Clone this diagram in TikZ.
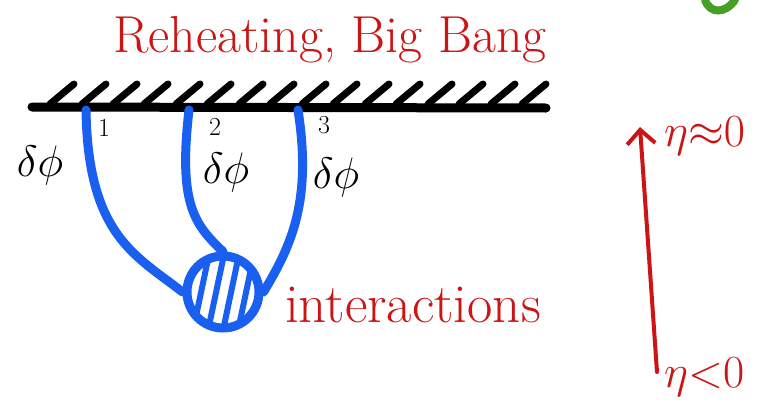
\RequirePackage{fix-cm}
\documentclass[tikz,border=0pt]{standalone}
\usepackage{amssymb}
\usetikzlibrary{arrows.meta}
\definecolor{inkred}{RGB}{205,20,20}
\definecolor{inkblue}{RGB}{25,95,240}
\definecolor{inkgreen}{RGB}{70,160,40}
\tikzset{
  hatchline/.style={line width=7pt, line cap=round},
  legline/.style={inkblue, line width=9pt, line cap=round},
  redtext/.style={inkred, font=\fontsize{52}{58}\selectfont, inner sep=0pt},
  timelab/.style={inkred, font=\fontsize{46}{50}\selectfont, inner sep=0pt, anchor=west},
  fieldlab/.style={font=\fontsize{44}{48}\selectfont, inner sep=0pt},
  idxlab/.style={font=\fontsize{26}{28}\selectfont, inner sep=0pt},
}
\begin{document}
\begin{tikzpicture}[x=1pt, y=-1pt]
  \useasboundingbox[fill=white] (0,0) rectangle (757,415);

  % boundary at the end of inflation (hatched line)
  \coordinate (bl) at (32,107);
  \coordinate (br) at (546,108);
  \draw[line width=9pt, line cap=round] (bl) -- (br);
  \foreach \x in {50,82,113,144,176,207,239,270,302,333,365,396,428,459,491,522} {
    \draw[hatchline] (\x,104) -- (\x+24,84);
  }

  % title
  \node[redtext] (title) at (330,40) {Reheating, Big Bang};

  % interaction blob
  \node[circle, draw=inkblue, line width=9pt, minimum size=72pt, inner sep=0pt] (blob) at (223,292) {};
  \begin{scope}
    \clip (blob.center) circle (36pt);
    \foreach \d in {-22,-7,8,23} {
      \draw[inkblue, line width=6pt] (223+\d-10,340) -- (223+\d+10,245);
    }
  \end{scope}

  % external legs
  \coordinate (p1) at (86,110);
  \coordinate (p2) at (189,110);
  \coordinate (p3) at (298,110);
  \draw[legline] (p1) .. controls (88,235) and (135,255) .. (blob.west);
  \draw[legline] (p2) .. controls (178,205) and (195,225) .. (blob.north);
  \draw[legline] (p3) .. controls (312,200) and (292,245) .. (blob.east);

  % field labels
  \node[fieldlab] (f1) at (40,165) {$\delta\phi$};
  \node[idxlab] (i1) at (104,128) {1};
  \node[fieldlab] (f2) at (226,172) {$\delta\phi$};
  \node[idxlab] (i2) at (215,127) {2};
  \node[fieldlab] (f3) at (336,177) {$\delta\phi$};
  \node[idxlab] (i3) at (324,125) {3};

  \node[redtext, anchor=west, font=\fontsize{55}{60}\selectfont] (inter) at (285,305) {interactions};

  % time direction
  \node[timelab] (late) at (664,136) {$\eta{\approx}0$};
  \node[timelab] (early) at (664,377) {$\eta{<}0$};
  \coordinate (tbot) at (657,372);
  \coordinate (ttop) at (640,127);
  \draw[inkred, line width=4pt, line cap=round, -{Straight Barb[length=14pt, width=28pt]}] (tbot) -- (ttop);

  % corner mark
  \draw[inkgreen, line width=8pt, line cap=round] (705,0) .. controls (710,14) and (725,14) .. (735,0);
\end{tikzpicture}
\end{document}
